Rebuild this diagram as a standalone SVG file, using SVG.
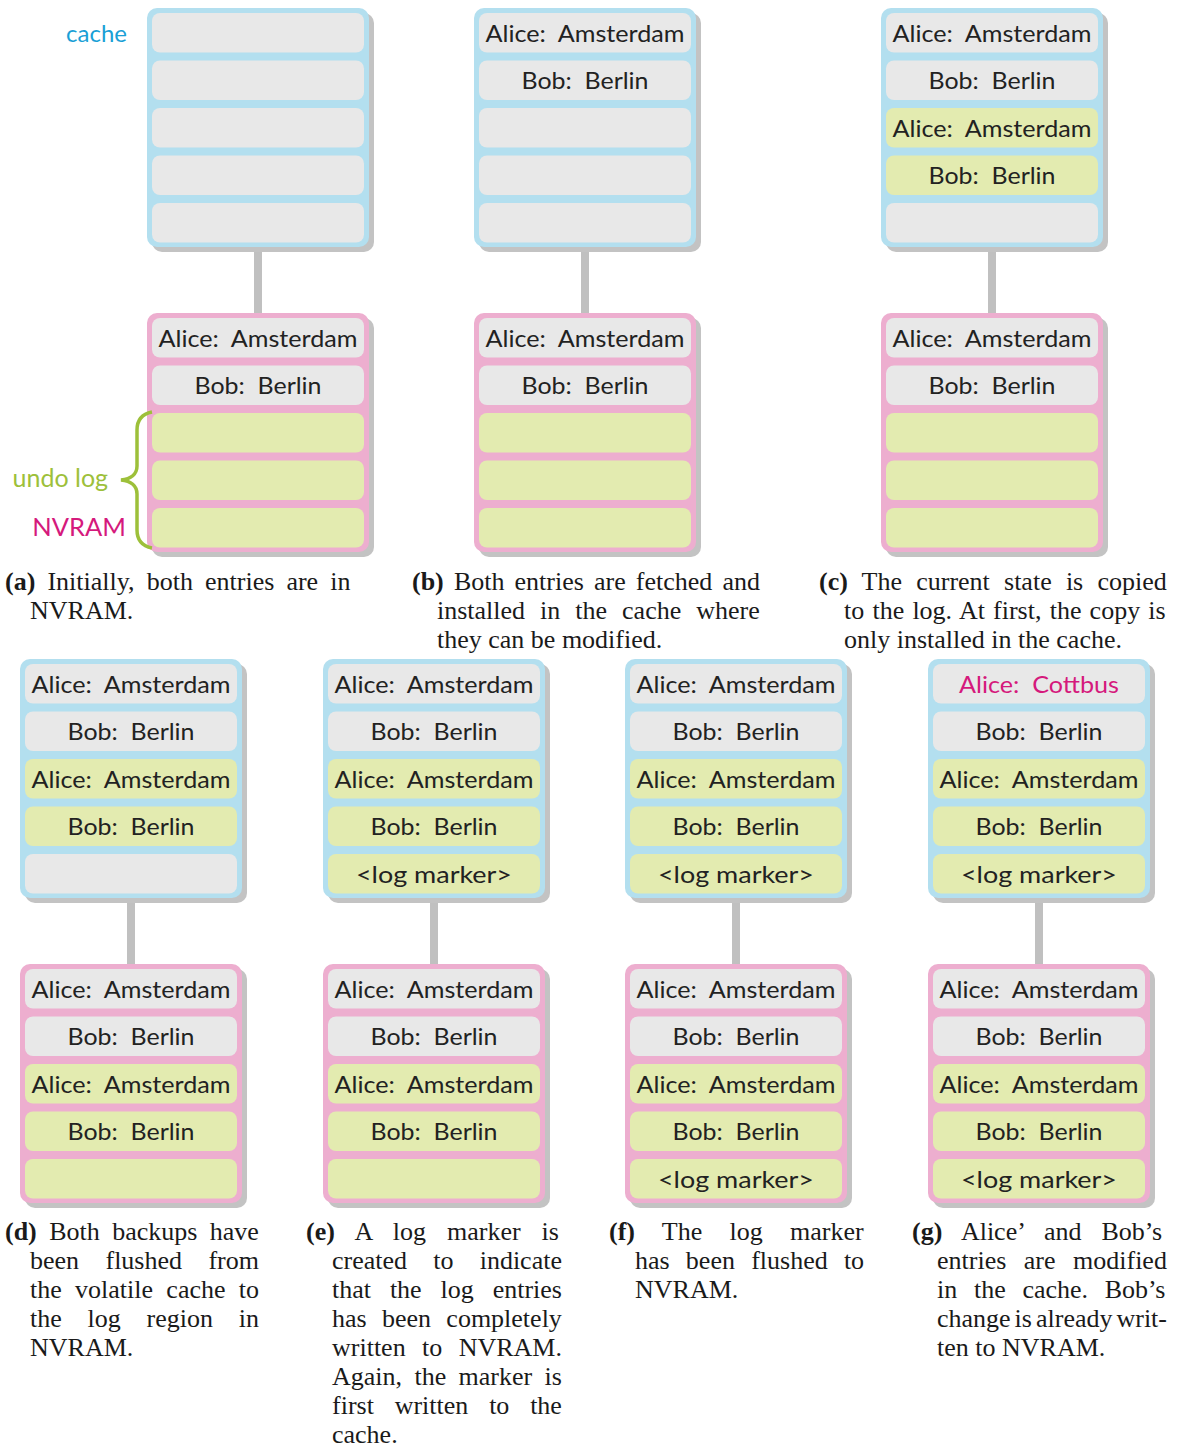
<svg xmlns="http://www.w3.org/2000/svg" width="1179" height="1450" viewBox="0 0 1179 1450">
  <style>
    .s { fill: #c3c3c3; }
    .bc { fill: #b3dfef; }
    .bn { fill: #edaecf; }
    .g { fill: #e8e8e8; }
    .y { fill: #e3ebb0; }
    .t { font-family: Lato, "Noto Sans", sans-serif; font-size: 24px; fill: #222; text-anchor: middle; }
    .m { fill: #d5197c; }
    .lbl { font-family: Lato, "Noto Sans", sans-serif; font-size: 24px; text-anchor: end; }
    .cap { font-family: "Liberation Serif", "Times New Roman", serif; font-size: 26px; fill: #1a1a1a; }
    .bd { font-weight: bold; }
    .wire { stroke: #c0c0c0; stroke-width: 8; fill: none; }
  </style>
  <defs>
    <rect id="shadow" class="s" x="5" y="5" width="222" height="239" rx="10"/>
    <rect id="cbox" class="bc" width="222" height="239" rx="10"/>
    <rect id="nbox" class="bn" width="222" height="239" rx="10"/>
    <rect id="gc" class="g" width="212" height="39.5" rx="8"/>
    <rect id="yc" class="y" width="212" height="39.5" rx="8"/>
  </defs>

  <!-- links between cache and NVRAM -->
  <g id="connectors">
    <line class="wire" x1="258" y1="240" x2="258" y2="320"/>
    <line class="wire" x1="585" y1="240" x2="585" y2="320"/>
    <line class="wire" x1="992" y1="240" x2="992" y2="320"/>
    <line class="wire" x1="131" y1="891" x2="131" y2="971"/>
    <line class="wire" x1="434" y1="891" x2="434" y2="971"/>
    <line class="wire" x1="736" y1="891" x2="736" y2="971"/>
    <line class="wire" x1="1039" y1="891" x2="1039" y2="971"/>
  </g>

  <!-- (a) -->
  <g id="a-cache" transform="translate(147,8)">
    <use href="#shadow"/><use href="#cbox"/>
    <use href="#gc" x="5" y="5"/><use href="#gc" x="5" y="52.5"/><use href="#gc" x="5" y="100"/><use href="#gc" x="5" y="147.5"/><use href="#gc" x="5" y="195"/>
  </g>
  <g id="a-nvram" transform="translate(147,313)">
    <use href="#shadow"/><use href="#nbox"/>
    <use href="#gc" x="5" y="5"/><use href="#gc" x="5" y="52.5"/><use href="#yc" x="5" y="100"/><use href="#yc" x="5" y="147.5"/><use href="#yc" x="5" y="195"/>
    <text class="t" x="111" y="33.5" textLength="199" lengthAdjust="spacingAndGlyphs">Alice:&#160; Amsterdam</text>
    <text class="t" x="111" y="81" textLength="127" lengthAdjust="spacingAndGlyphs">Bob:&#160; Berlin</text>
  </g>
  <g id="a-labels">
    <text class="lbl" x="127" y="42" fill="#1a9fd6">cache</text>
    <text class="lbl" x="108" y="487" fill="#9dc03a" style="font-size:25px">undo log</text>
    <text class="lbl" x="126" y="536" fill="#d5197c" style="font-size:25.5px">NVRAM</text>
    <path d="M152,412 C142,414 137,420 137,430 L137,466 C137,474 131,479 121,480 C131,481 137,486 137,494 L137,530 C137,540 142,546 152,548" fill="none" stroke="#9dc03a" stroke-width="3.5"/>
  </g>

  <!-- (b) -->
  <g id="b-cache" transform="translate(474,8)">
    <use href="#shadow"/><use href="#cbox"/>
    <use href="#gc" x="5" y="5"/><use href="#gc" x="5" y="52.5"/><use href="#gc" x="5" y="100"/><use href="#gc" x="5" y="147.5"/><use href="#gc" x="5" y="195"/>
    <text class="t" x="111" y="33.5" textLength="199" lengthAdjust="spacingAndGlyphs">Alice:&#160; Amsterdam</text>
    <text class="t" x="111" y="81" textLength="127" lengthAdjust="spacingAndGlyphs">Bob:&#160; Berlin</text>
  </g>
  <g id="b-nvram" transform="translate(474,313)">
    <use href="#shadow"/><use href="#nbox"/>
    <use href="#gc" x="5" y="5"/><use href="#gc" x="5" y="52.5"/><use href="#yc" x="5" y="100"/><use href="#yc" x="5" y="147.5"/><use href="#yc" x="5" y="195"/>
    <text class="t" x="111" y="33.5" textLength="199" lengthAdjust="spacingAndGlyphs">Alice:&#160; Amsterdam</text>
    <text class="t" x="111" y="81" textLength="127" lengthAdjust="spacingAndGlyphs">Bob:&#160; Berlin</text>
  </g>

  <!-- (c) -->
  <g id="c-cache" transform="translate(881,8)">
    <use href="#shadow"/><use href="#cbox"/>
    <use href="#gc" x="5" y="5"/><use href="#gc" x="5" y="52.5"/><use href="#yc" x="5" y="100"/><use href="#yc" x="5" y="147.5"/><use href="#gc" x="5" y="195"/>
    <text class="t" x="111" y="33.5" textLength="199" lengthAdjust="spacingAndGlyphs">Alice:&#160; Amsterdam</text>
    <text class="t" x="111" y="81" textLength="127" lengthAdjust="spacingAndGlyphs">Bob:&#160; Berlin</text>
    <text class="t" x="111" y="128.5" textLength="199" lengthAdjust="spacingAndGlyphs">Alice:&#160; Amsterdam</text>
    <text class="t" x="111" y="176" textLength="127" lengthAdjust="spacingAndGlyphs">Bob:&#160; Berlin</text>
  </g>
  <g id="c-nvram" transform="translate(881,313)">
    <use href="#shadow"/><use href="#nbox"/>
    <use href="#gc" x="5" y="5"/><use href="#gc" x="5" y="52.5"/><use href="#yc" x="5" y="100"/><use href="#yc" x="5" y="147.5"/><use href="#yc" x="5" y="195"/>
    <text class="t" x="111" y="33.5" textLength="199" lengthAdjust="spacingAndGlyphs">Alice:&#160; Amsterdam</text>
    <text class="t" x="111" y="81" textLength="127" lengthAdjust="spacingAndGlyphs">Bob:&#160; Berlin</text>
  </g>

  <!-- (d) -->
  <g id="d-cache" transform="translate(20,659)">
    <use href="#shadow"/><use href="#cbox"/>
    <use href="#gc" x="5" y="5"/><use href="#gc" x="5" y="52.5"/><use href="#yc" x="5" y="100"/><use href="#yc" x="5" y="147.5"/><use href="#gc" x="5" y="195"/>
    <text class="t" x="111" y="33.5" textLength="199" lengthAdjust="spacingAndGlyphs">Alice:&#160; Amsterdam</text>
    <text class="t" x="111" y="81" textLength="127" lengthAdjust="spacingAndGlyphs">Bob:&#160; Berlin</text>
    <text class="t" x="111" y="128.5" textLength="199" lengthAdjust="spacingAndGlyphs">Alice:&#160; Amsterdam</text>
    <text class="t" x="111" y="176" textLength="127" lengthAdjust="spacingAndGlyphs">Bob:&#160; Berlin</text>
  </g>
  <g id="d-nvram" transform="translate(20,964)">
    <use href="#shadow"/><use href="#nbox"/>
    <use href="#gc" x="5" y="5"/><use href="#gc" x="5" y="52.5"/><use href="#yc" x="5" y="100"/><use href="#yc" x="5" y="147.5"/><use href="#yc" x="5" y="195"/>
    <text class="t" x="111" y="33.5" textLength="199" lengthAdjust="spacingAndGlyphs">Alice:&#160; Amsterdam</text>
    <text class="t" x="111" y="81" textLength="127" lengthAdjust="spacingAndGlyphs">Bob:&#160; Berlin</text>
    <text class="t" x="111" y="128.5" textLength="199" lengthAdjust="spacingAndGlyphs">Alice:&#160; Amsterdam</text>
    <text class="t" x="111" y="176" textLength="127" lengthAdjust="spacingAndGlyphs">Bob:&#160; Berlin</text>
  </g>

  <!-- (e) -->
  <g id="e-cache" transform="translate(323,659)">
    <use href="#shadow"/><use href="#cbox"/>
    <use href="#gc" x="5" y="5"/><use href="#gc" x="5" y="52.5"/><use href="#yc" x="5" y="100"/><use href="#yc" x="5" y="147.5"/><use href="#yc" x="5" y="195"/>
    <text class="t" x="111" y="33.5" textLength="199" lengthAdjust="spacingAndGlyphs">Alice:&#160; Amsterdam</text>
    <text class="t" x="111" y="81" textLength="127" lengthAdjust="spacingAndGlyphs">Bob:&#160; Berlin</text>
    <text class="t" x="111" y="128.5" textLength="199" lengthAdjust="spacingAndGlyphs">Alice:&#160; Amsterdam</text>
    <text class="t" x="111" y="176" textLength="127" lengthAdjust="spacingAndGlyphs">Bob:&#160; Berlin</text>
    <text class="t" x="111" y="223.5" textLength="156" lengthAdjust="spacingAndGlyphs">&lt;log marker&gt;</text>
  </g>
  <g id="e-nvram" transform="translate(323,964)">
    <use href="#shadow"/><use href="#nbox"/>
    <use href="#gc" x="5" y="5"/><use href="#gc" x="5" y="52.5"/><use href="#yc" x="5" y="100"/><use href="#yc" x="5" y="147.5"/><use href="#yc" x="5" y="195"/>
    <text class="t" x="111" y="33.5" textLength="199" lengthAdjust="spacingAndGlyphs">Alice:&#160; Amsterdam</text>
    <text class="t" x="111" y="81" textLength="127" lengthAdjust="spacingAndGlyphs">Bob:&#160; Berlin</text>
    <text class="t" x="111" y="128.5" textLength="199" lengthAdjust="spacingAndGlyphs">Alice:&#160; Amsterdam</text>
    <text class="t" x="111" y="176" textLength="127" lengthAdjust="spacingAndGlyphs">Bob:&#160; Berlin</text>
  </g>

  <!-- (f) -->
  <g id="f-cache" transform="translate(625,659)">
    <use href="#shadow"/><use href="#cbox"/>
    <use href="#gc" x="5" y="5"/><use href="#gc" x="5" y="52.5"/><use href="#yc" x="5" y="100"/><use href="#yc" x="5" y="147.5"/><use href="#yc" x="5" y="195"/>
    <text class="t" x="111" y="33.5" textLength="199" lengthAdjust="spacingAndGlyphs">Alice:&#160; Amsterdam</text>
    <text class="t" x="111" y="81" textLength="127" lengthAdjust="spacingAndGlyphs">Bob:&#160; Berlin</text>
    <text class="t" x="111" y="128.5" textLength="199" lengthAdjust="spacingAndGlyphs">Alice:&#160; Amsterdam</text>
    <text class="t" x="111" y="176" textLength="127" lengthAdjust="spacingAndGlyphs">Bob:&#160; Berlin</text>
    <text class="t" x="111" y="223.5" textLength="156" lengthAdjust="spacingAndGlyphs">&lt;log marker&gt;</text>
  </g>
  <g id="f-nvram" transform="translate(625,964)">
    <use href="#shadow"/><use href="#nbox"/>
    <use href="#gc" x="5" y="5"/><use href="#gc" x="5" y="52.5"/><use href="#yc" x="5" y="100"/><use href="#yc" x="5" y="147.5"/><use href="#yc" x="5" y="195"/>
    <text class="t" x="111" y="33.5" textLength="199" lengthAdjust="spacingAndGlyphs">Alice:&#160; Amsterdam</text>
    <text class="t" x="111" y="81" textLength="127" lengthAdjust="spacingAndGlyphs">Bob:&#160; Berlin</text>
    <text class="t" x="111" y="128.5" textLength="199" lengthAdjust="spacingAndGlyphs">Alice:&#160; Amsterdam</text>
    <text class="t" x="111" y="176" textLength="127" lengthAdjust="spacingAndGlyphs">Bob:&#160; Berlin</text>
    <text class="t" x="111" y="223.5" textLength="156" lengthAdjust="spacingAndGlyphs">&lt;log marker&gt;</text>
  </g>

  <!-- (g) -->
  <g id="g-cache" transform="translate(928,659)">
    <use href="#shadow"/><use href="#cbox"/>
    <use href="#gc" x="5" y="5"/><use href="#gc" x="5" y="52.5"/><use href="#yc" x="5" y="100"/><use href="#yc" x="5" y="147.5"/><use href="#yc" x="5" y="195"/>
    <text class="t m" x="111" y="33.5" textLength="160" lengthAdjust="spacingAndGlyphs">Alice:&#160; Cottbus</text>
    <text class="t" x="111" y="81" textLength="127" lengthAdjust="spacingAndGlyphs">Bob:&#160; Berlin</text>
    <text class="t" x="111" y="128.5" textLength="199" lengthAdjust="spacingAndGlyphs">Alice:&#160; Amsterdam</text>
    <text class="t" x="111" y="176" textLength="127" lengthAdjust="spacingAndGlyphs">Bob:&#160; Berlin</text>
    <text class="t" x="111" y="223.5" textLength="156" lengthAdjust="spacingAndGlyphs">&lt;log marker&gt;</text>
  </g>
  <g id="g-nvram" transform="translate(928,964)">
    <use href="#shadow"/><use href="#nbox"/>
    <use href="#gc" x="5" y="5"/><use href="#gc" x="5" y="52.5"/><use href="#yc" x="5" y="100"/><use href="#yc" x="5" y="147.5"/><use href="#yc" x="5" y="195"/>
    <text class="t" x="111" y="33.5" textLength="199" lengthAdjust="spacingAndGlyphs">Alice:&#160; Amsterdam</text>
    <text class="t" x="111" y="81" textLength="127" lengthAdjust="spacingAndGlyphs">Bob:&#160; Berlin</text>
    <text class="t" x="111" y="128.5" textLength="199" lengthAdjust="spacingAndGlyphs">Alice:&#160; Amsterdam</text>
    <text class="t" x="111" y="176" textLength="127" lengthAdjust="spacingAndGlyphs">Bob:&#160; Berlin</text>
    <text class="t" x="111" y="223.5" textLength="156" lengthAdjust="spacingAndGlyphs">&lt;log marker&gt;</text>
  </g>

  <!-- sub-captions, justified line by line -->
  <g id="captions" class="cap">
    <text x="5" y="590" word-spacing="5.6"><tspan class="bd">(a)</tspan> Initially, both entries are in</text>
    <text x="30" y="619">NVRAM.</text>

    <text x="412" y="590" word-spacing="3.6"><tspan class="bd">(b)</tspan> Both entries are fetched and</text>
    <text x="437" y="619" word-spacing="8.5">installed in the cache where</text>
    <text x="437" y="648">they can be modified.</text>

    <text x="819" y="590" word-spacing="7.7"><tspan class="bd">(c)</tspan> The current state is copied</text>
    <text x="844" y="619" word-spacing="1.7">to the log. At first, the copy is</text>
    <text x="844" y="648">only installed in the cache.</text>

    <text x="5" y="1240" word-spacing="5.9"><tspan class="bd">(d)</tspan> Both backups have</text>
    <text x="30" y="1269" word-spacing="19.9">been flushed from</text>
    <text x="30" y="1298" word-spacing="6.8">the volatile cache to</text>
    <text x="30" y="1327" word-spacing="19.3">the log region in</text>
    <text x="30" y="1356">NVRAM.</text>

    <text x="306" y="1240" word-spacing="14.5"><tspan class="bd">(e)</tspan> A log marker is</text>
    <text x="332" y="1269" word-spacing="19.7">created to indicate</text>
    <text x="332" y="1298" word-spacing="12.4">that the log entries</text>
    <text x="332" y="1327" word-spacing="8.8">has been completely</text>
    <text x="332" y="1356" word-spacing="9.9">written to NVRAM.</text>
    <text x="332" y="1385" word-spacing="5.9">Again, the marker is</text>
    <text x="332" y="1414" word-spacing="14.3">first written to the</text>
    <text x="332" y="1443">cache.</text>

    <text x="609" y="1240" word-spacing="20.8"><tspan class="bd">(f)</tspan> The log marker</text>
    <text x="635" y="1269" word-spacing="9.7">has been flushed to</text>
    <text x="635" y="1298">NVRAM.</text>

    <text x="912" y="1240" word-spacing="13.5"><tspan class="bd">(g)</tspan> Alice’ and Bob’s</text>
    <text x="937" y="1269" word-spacing="11">entries are modified</text>
    <text x="937" y="1298" word-spacing="10.2">in the cache. Bob’s</text>
    <text x="937" y="1327" word-spacing="-2.5">change is already writ-</text>
    <text x="937" y="1356">ten to NVRAM.</text>
  </g>
</svg>
